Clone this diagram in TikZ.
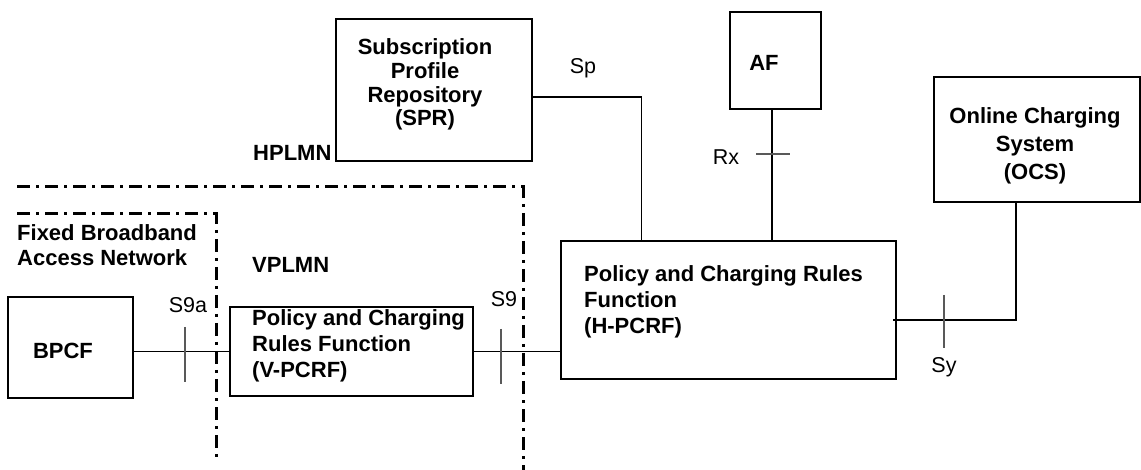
\documentclass[tikz,border=0pt]{standalone}
\usepackage{fontspec}
\setmainfont{Liberation Sans}
\usetikzlibrary{positioning}

\begin{document}
\begin{tikzpicture}[x=1pt,y=-1pt,
box/.style={draw,line width=1.1pt,inner sep=0pt},
ent/.style={font=\fontsize{22}{26}\selectfont\bfseries,inner sep=0pt,align=left},
lbl/.style={font=\fontsize{21.5}{24}\selectfont,inner sep=0pt},
tick/.style={line width=1.1pt,black!65},
zone/.style={line width=3pt,dash pattern=on 13pt off 6pt on 3pt off 6pt},
link/.style={line width=1.1pt}]
\useasboundingbox (0,0) rectangle (1141,470);
\draw[zone] (17,187) -- (523,187) -- (523,470);
\draw[zone] (17,214) -- (216,214) -- (216,462);
\node[box,minimum width=125pt,minimum height=101pt] (bpcf) at (70.5,347.5) {};
\node[box,minimum width=243pt,minimum height=89pt] (vpcrf) at (351.5,351.5) {};
\node[box,minimum width=335pt,minimum height=138pt] (hpcrf) at (728.5,310) {};
\node[box,minimum width=196pt,minimum height=142pt] (spr) at (434,90) {};
\node[box,minimum width=91pt,minimum height=97pt] (af) at (775.5,60.5) {};
\node[box,minimum width=206pt,minimum height=125pt] (ocs) at (1037,139.5) {};
\node[ent] (bpcf-t) at (63,351) {BPCF};
\node[ent,anchor=west] (vpcrf-t) at (252,346) {Policy and Charging\\Rules Function\\(V-PCRF)};
\node[ent,anchor=west] (hpcrf-t) at (584,301.5) {Policy and Charging Rules\\Function\\(H-PCRF)};
\node[ent,align=center,font=\fontsize{22}{23.7}\selectfont\bfseries] (spr-t) at (425,84.5) {Subscription\\Profile\\Repository\\(SPR)};
\node[ent] (af-t) at (764,63) {AF};
\node[ent,align=center,font=\fontsize{22}{28}\selectfont\bfseries] (ocs-t) at (1035,146) {Online Charging\\System\\(OCS)};
\node[ent,anchor=west,font=\fontsize{22}{25}\selectfont\bfseries] (fban) at (17,245.5) {Fixed Broadband\\Access Network};
\node[ent,anchor=west] (vplmn) at (252,265) {VPLMN};
\node[ent,anchor=west] (hplmn) at (253,153) {HPLMN};
\draw[link] (vpcrf.west) -- (vpcrf.west -| bpcf.east);
\draw[link] (vpcrf.east) -- (vpcrf.east -| hpcrf.west);
\draw[link] ([yshift=-7pt]spr.east) -| ([xshift=81pt]hpcrf.north west);
\draw[link] ([xshift=-3.5pt]af.south) -- ([xshift=-3.5pt]af.south |- hpcrf.north);
\draw[link] ([xshift=-21pt]ocs.south) |- ([xshift=-4pt,yshift=-10pt]hpcrf.east);
\draw[tick] (185,327) -- (185,382);
\draw[tick] (501,329) -- (501,384);
\draw[tick] (756,154) -- (790,154);
\draw[tick] (944,295) -- (944,348);
\node[lbl] (s9a) at (188,305) {S9a};
\node[lbl] (s9) at (504,299) {S9};
\node[lbl] (sp) at (583,68) {Sp};
\node[lbl] (rx) at (726,157) {Rx};
\node[lbl] (sy) at (944,367) {Sy};
\end{tikzpicture}
\end{document}
